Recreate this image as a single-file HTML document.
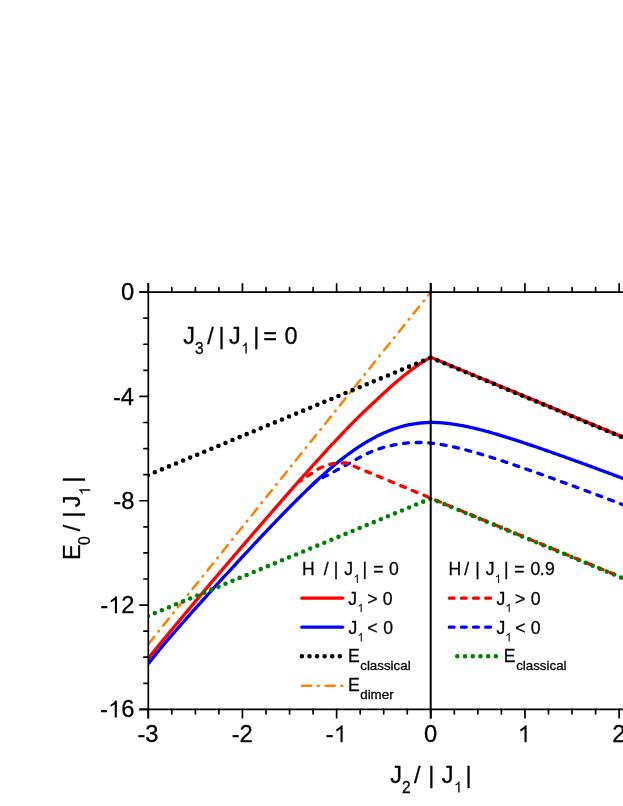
<!DOCTYPE html>
<html><head><meta charset="utf-8"><title>chart</title>
<style>
html,body{margin:0;padding:0;background:#fff;}
body{width:623px;height:806px;overflow:hidden;}
svg{display:block;font-family:"Liberation Sans",sans-serif;}
</style></head><body>
<svg width="623" height="806" viewBox="0 0 623 806">
<rect width="623" height="806" fill="#fff"/>
<clipPath id="cp"><rect x="147.89" y="290.10" width="500" height="421.28"/></clipPath><g clip-path="url(#cp)">
<path d="M148.29,658.42 L149.71,656.65 L151.13,654.88 L152.55,653.12 L153.97,651.36 L155.39,649.60 L156.81,647.85 L158.23,646.11 L159.65,644.37 L161.07,642.64 L162.49,640.92 L163.91,639.20 L165.33,637.49 L166.75,635.78 L168.17,634.07 L169.58,632.36 L171.00,630.65 L172.42,628.94 L173.84,627.23 L175.26,625.53 L176.68,623.82 L178.10,622.11 L179.52,620.40 L180.94,618.69 L182.36,616.98 L183.78,615.28 L185.20,613.57 L186.62,611.87 L188.04,610.16 L189.46,608.46 L190.88,606.76 L192.30,605.07 L193.72,603.37 L195.14,601.68 L196.56,599.99 L197.98,598.30 L199.40,596.62 L200.82,594.93 L202.24,593.25 L203.66,591.57 L205.08,589.89 L206.50,588.22 L207.92,586.54 L209.33,584.87 L210.75,583.19 L212.17,581.52 L213.59,579.85 L215.01,578.18 L216.43,576.51 L217.85,574.85 L219.27,573.18 L220.69,571.51 L222.11,569.85 L223.53,568.19 L224.95,566.52 L226.37,564.86 L227.79,563.20 L229.21,561.54 L230.63,559.88 L232.05,558.22 L233.47,556.56 L234.89,554.90 L236.31,553.24 L237.73,551.58 L239.15,549.93 L240.57,548.27 L241.99,546.62 L243.41,544.96 L244.83,543.31 L246.25,541.66 L247.67,540.01 L249.09,538.36 L250.50,536.71 L251.92,535.06 L253.34,533.41 L254.76,531.76 L256.18,530.12 L257.60,528.47 L259.02,526.83 L260.44,525.18 L261.86,523.54 L263.28,521.90 L264.70,520.26 L266.12,518.62 L267.54,516.98 L268.96,515.34 L270.38,513.71 L271.80,512.07 L273.22,510.44 L274.64,508.80 L276.06,507.17 L277.48,505.54 L278.90,503.91 L280.32,502.29 L281.74,500.66 L283.16,499.03 L284.58,497.41 L286.00,495.79 L287.42,494.17 L288.84,492.55 L290.25,490.93 L291.67,489.31 L293.09,487.70 L294.51,486.09 L295.93,484.48 L297.35,482.87 L298.77,481.26 L300.19,479.66 L301.61,478.06 L303.03,476.46 L304.45,474.86 L305.87,473.27 L307.29,471.68 L308.71,470.09 L310.13,468.50 L311.55,466.92 L312.97,465.34 L314.39,463.76 L315.81,462.19 L317.23,460.62 L318.65,459.05 L320.07,457.49 L321.49,455.93 L322.91,454.38 L324.33,452.82 L325.75,451.28 L327.17,449.73 L328.59,448.19 L330.00,446.66 L331.42,445.13 L332.84,443.60 L334.26,442.08 L335.68,440.57 L337.10,439.06 L338.52,437.55 L339.94,436.05 L341.36,434.56 L342.78,433.07 L344.20,431.59 L345.62,430.11 L347.04,428.64 L348.46,427.18 L349.88,425.72 L351.30,424.27 L352.72,422.83 L354.14,421.40 L355.56,419.98 L356.98,418.57 L358.40,417.16 L359.82,415.77 L361.24,414.38 L362.66,413.00 L364.08,411.64 L365.50,410.28 L366.92,408.92 L368.34,407.58 L369.76,406.24 L371.17,404.90 L372.59,403.57 L374.01,402.24 L375.43,400.92 L376.85,399.60 L378.27,398.28 L379.69,396.96 L381.11,395.64 L382.53,394.32 L383.95,393.01 L385.37,391.71 L386.79,390.41 L388.21,389.11 L389.63,387.83 L391.05,386.56 L392.47,385.30 L393.89,384.05 L395.31,382.81 L396.73,381.59 L398.15,380.39 L399.57,379.19 L400.99,378.01 L402.41,376.85 L403.83,375.70 L405.25,374.57 L406.67,373.45 L408.09,372.34 L409.51,371.26 L410.92,370.19 L412.34,369.14 L413.76,368.10 L415.18,367.09 L416.60,366.09 L418.02,365.11 L419.44,364.15 L420.86,363.22 L422.28,362.31 L423.70,361.41 L425.12,360.54 L426.54,359.70 L427.96,358.87 L429.38,358.07 L430.80,357.30 L430.80,357.30 L624.79,437.89" fill="none" stroke="#ff0000" stroke-width="3.3" stroke-linejoin="round"/>
<path d="M148.29,663.62 L149.88,661.61 L151.48,659.62 L153.07,657.62 L154.66,655.64 L156.26,653.66 L157.85,651.71 L159.45,649.76 L161.04,647.84 L162.63,645.93 L164.23,644.03 L165.82,642.15 L167.41,640.27 L169.01,638.41 L170.60,636.56 L172.19,634.71 L173.79,632.87 L175.38,631.04 L176.98,629.22 L178.57,627.40 L180.16,625.58 L181.76,623.77 L183.35,621.97 L184.94,620.17 L186.54,618.37 L188.13,616.58 L189.72,614.79 L191.32,613.01 L192.91,611.22 L194.51,609.44 L196.10,607.66 L197.69,605.88 L199.29,604.11 L200.88,602.33 L202.47,600.56 L204.07,598.79 L205.66,597.03 L207.25,595.26 L208.85,593.50 L210.44,591.74 L212.04,589.98 L213.63,588.22 L215.22,586.47 L216.82,584.72 L218.41,582.96 L220.00,581.22 L221.60,579.47 L223.19,577.72 L224.79,575.98 L226.38,574.24 L227.97,572.50 L229.57,570.76 L231.16,569.03 L232.75,567.29 L234.35,565.56 L235.94,563.83 L237.53,562.10 L239.13,560.37 L240.72,558.65 L242.32,556.92 L243.91,555.20 L245.50,553.48 L247.10,551.77 L248.69,550.05 L250.28,548.34 L251.88,546.63 L253.47,544.93 L255.06,543.22 L256.66,541.52 L258.25,539.83 L259.85,538.13 L261.44,536.44 L263.03,534.75 L264.63,533.06 L266.22,531.38 L267.81,529.70 L269.41,528.03 L271.00,526.36 L272.59,524.69 L274.19,523.02 L275.78,521.36 L277.38,519.71 L278.97,518.06 L280.56,516.41 L282.16,514.77 L283.75,513.13 L285.34,511.50 L286.94,509.87 L288.53,508.25 L290.12,506.63 L291.72,505.02 L293.31,503.42 L294.91,501.82 L296.50,500.23 L298.09,498.64 L299.69,497.06 L301.28,495.49 L302.87,493.93 L304.47,492.37 L306.06,490.83 L307.65,489.29 L309.25,487.76 L310.84,486.24 L312.44,484.73 L314.03,483.23 L315.62,481.74 L317.22,480.26 L318.81,478.79 L320.40,477.33 L322.00,475.89 L323.59,474.45 L325.18,473.03 L326.78,471.63 L328.37,470.23 L329.97,468.86 L331.56,467.49 L333.15,466.14 L334.75,464.81 L336.34,463.49 L337.93,462.19 L339.53,460.91 L341.12,459.65 L342.71,458.40 L344.31,457.17 L345.90,455.96 L347.50,454.77 L349.09,453.60 L350.68,452.44 L352.28,451.31 L353.87,450.19 L355.46,449.10 L357.06,448.02 L358.65,446.96 L360.24,445.92 L361.84,444.90 L363.43,443.91 L365.03,442.93 L366.62,441.97 L368.21,441.03 L369.81,440.12 L371.40,439.22 L372.99,438.34 L374.59,437.49 L376.18,436.66 L377.78,435.84 L379.37,435.06 L380.96,434.29 L382.56,433.55 L384.15,432.83 L385.74,432.14 L387.34,431.47 L388.93,430.82 L390.52,430.20 L392.12,429.60 L393.71,429.03 L395.31,428.48 L396.90,427.96 L398.49,427.46 L400.09,426.98 L401.68,426.53 L403.27,426.11 L404.87,425.70 L406.46,425.32 L408.05,424.97 L409.65,424.64 L411.24,424.33 L412.84,424.05 L414.43,423.79 L416.02,423.56 L417.62,423.35 L419.21,423.16 L420.80,422.99 L422.40,422.85 L423.99,422.73 L425.58,422.63 L427.18,422.56 L428.77,422.50 L430.37,422.47 L431.96,422.46 L433.55,422.47 L435.15,422.50 L436.74,422.56 L438.33,422.63 L439.93,422.72 L441.52,422.82 L443.11,422.95 L444.71,423.09 L446.30,423.25 L447.90,423.43 L449.49,423.62 L451.08,423.82 L452.68,424.04 L454.27,424.28 L455.86,424.53 L457.46,424.79 L459.05,425.06 L460.64,425.34 L462.24,425.64 L463.83,425.95 L465.43,426.27 L467.02,426.60 L468.61,426.94 L470.21,427.29 L471.80,427.65 L473.39,428.01 L474.99,428.39 L476.58,428.78 L478.17,429.17 L479.77,429.57 L481.36,429.98 L482.96,430.39 L484.55,430.81 L486.14,431.24 L487.74,431.68 L489.33,432.12 L490.92,432.57 L492.52,433.02 L494.11,433.48 L495.70,433.94 L497.30,434.41 L498.89,434.89 L500.49,435.37 L502.08,435.85 L503.67,436.34 L505.27,436.83 L506.86,437.33 L508.45,437.83 L510.05,438.33 L511.64,438.84 L513.23,439.35 L514.83,439.86 L516.42,440.38 L518.02,440.90 L519.61,441.42 L521.20,441.94 L522.80,442.47 L524.39,443.00 L525.98,443.53 L527.58,444.07 L529.17,444.60 L530.77,445.14 L532.36,445.68 L533.95,446.23 L535.55,446.77 L537.14,447.31 L538.73,447.86 L540.33,448.41 L541.92,448.96 L543.51,449.51 L545.11,450.07 L546.70,450.62 L548.30,451.18 L549.89,451.74 L551.48,452.30 L553.08,452.86 L554.67,453.42 L556.26,453.98 L557.86,454.55 L559.45,455.11 L561.04,455.68 L562.64,456.25 L564.23,456.82 L565.83,457.39 L567.42,457.96 L569.01,458.53 L570.61,459.11 L572.20,459.68 L573.79,460.26 L575.39,460.83 L576.98,461.41 L578.57,461.99 L580.17,462.57 L581.76,463.15 L583.36,463.73 L584.95,464.31 L586.54,464.90 L588.14,465.48 L589.73,466.06 L591.32,466.65 L592.92,467.24 L594.51,467.82 L596.10,468.41 L597.70,469.00 L599.29,469.59 L600.89,470.18 L602.48,470.77 L604.07,471.36 L605.67,471.95 L607.26,472.55 L608.85,473.14 L610.45,473.73 L612.04,474.33 L613.63,474.92 L615.23,475.52 L616.82,476.12 L618.42,476.72 L620.01,477.31 L621.60,477.91 L623.20,478.51 L624.79,479.11" fill="none" stroke="#0000ff" stroke-width="3.3"/>
<path d="M312.65,484.53 L313.69,483.54 L314.74,482.56 L315.78,481.59 L316.83,480.62 L317.87,479.87 L318.91,479.35 L319.96,478.84 L321.00,478.34 L322.04,477.84 L323.09,477.34 L324.13,476.84 L325.18,476.33 L326.22,475.82 L327.26,475.29 L328.31,474.76 L329.35,474.21 L330.40,473.65 L331.44,473.08 L332.48,472.50 L333.53,471.92 L334.57,471.34 L335.62,470.76 L336.66,470.18 L337.70,469.61 L338.75,469.03 L339.79,468.46 L340.84,467.89 L341.88,467.33 L342.92,466.76 L343.97,466.19 L345.01,465.62 L346.06,465.05 L347.10,464.47 L348.14,463.89 L349.19,463.31 L350.23,462.72 L351.28,462.13 L352.32,461.54 L353.36,460.95 L354.41,460.36 L355.45,459.77 L356.50,459.19 L357.54,458.61 L358.58,458.03 L359.63,457.46 L360.67,456.90 L361.71,456.34 L362.76,455.80 L363.80,455.26 L364.85,454.73 L365.89,454.21 L366.93,453.71 L367.98,453.22 L369.02,452.74 L370.07,452.28 L371.11,451.83 L372.15,451.39 L373.20,450.97 L374.24,450.56 L375.29,450.17 L376.33,449.79 L377.37,449.42 L378.42,449.06 L379.46,448.72 L380.51,448.39 L381.55,448.07 L382.59,447.76 L383.64,447.46 L384.68,447.17 L385.73,446.89 L386.77,446.62 L387.81,446.36 L388.86,446.11 L389.90,445.87 L390.95,445.64 L391.99,445.41 L393.03,445.19 L394.08,444.98 L395.12,444.78 L396.17,444.58 L397.21,444.39 L398.25,444.21 L399.30,444.04 L400.34,443.88 L401.39,443.72 L402.43,443.58 L403.47,443.44 L404.52,443.31 L405.56,443.19 L406.60,443.08 L407.65,442.98 L408.69,442.89 L409.74,442.81 L410.78,442.73 L411.82,442.67 L412.87,442.61 L413.91,442.57 L414.96,442.53 L416.00,442.51 L417.04,442.49 L418.09,442.48 L419.13,442.49 L420.18,442.50 L421.22,442.52 L422.26,442.55 L423.31,442.59 L424.35,442.63 L425.40,442.69 L426.44,442.76 L427.48,442.83 L428.53,442.91 L429.57,443.00 L430.62,443.10 L431.66,443.21 L432.70,443.32 L433.75,443.44 L434.79,443.57 L435.84,443.71 L436.88,443.85 L437.92,444.00 L438.97,444.15 L440.01,444.32 L441.06,444.48 L442.10,444.66 L443.14,444.84 L444.19,445.02 L445.23,445.21 L446.27,445.41 L447.32,445.61 L448.36,445.82 L449.41,446.03 L450.45,446.25 L451.49,446.47 L452.54,446.70 L453.58,446.93 L454.63,447.16 L455.67,447.40 L456.71,447.65 L457.76,447.89 L458.80,448.14 L459.85,448.40 L460.89,448.66 L461.93,448.92 L462.98,449.18 L464.02,449.45 L465.07,449.72 L466.11,450.00 L467.15,450.28 L468.20,450.56 L469.24,450.84 L470.29,451.13 L471.33,451.42 L472.37,451.71 L473.42,452.00 L474.46,452.30 L475.51,452.60 L476.55,452.90 L477.59,453.20 L478.64,453.51 L479.68,453.82 L480.73,454.13 L481.77,454.44 L482.81,454.76 L483.86,455.07 L484.90,455.39 L485.94,455.71 L486.99,456.03 L488.03,456.36 L489.08,456.68 L490.12,457.01 L491.16,457.34 L492.21,457.67 L493.25,458.00 L494.30,458.33 L495.34,458.67 L496.38,459.00 L497.43,459.34 L498.47,459.68 L499.52,460.02 L500.56,460.36 L501.60,460.70 L502.65,461.04 L503.69,461.39 L504.74,461.74 L505.78,462.08 L506.82,462.43 L507.87,462.78 L508.91,463.13 L509.96,463.48 L511.00,463.83 L512.04,464.19 L513.09,464.54 L514.13,464.90 L515.18,465.25 L516.22,465.61 L517.26,465.97 L518.31,466.33 L519.35,466.69 L520.40,467.05 L521.44,467.41 L522.48,467.77 L523.53,468.13 L524.57,468.50 L525.62,468.86 L526.66,469.23 L527.70,469.59 L528.75,469.96 L529.79,470.32 L530.83,470.69 L531.88,471.06 L532.92,471.43 L533.97,471.80 L535.01,472.17 L536.05,472.54 L537.10,472.91 L538.14,473.28 L539.19,473.65 L540.23,474.03 L541.27,474.40 L542.32,474.78 L543.36,475.15 L544.41,475.52 L545.45,475.90 L546.49,476.28 L547.54,476.65 L548.58,477.03 L549.63,477.41 L550.67,477.78 L551.71,478.16 L552.76,478.54 L553.80,478.92 L554.85,479.30 L555.89,479.68 L556.93,480.06 L557.98,480.44 L559.02,480.82 L560.07,481.20 L561.11,481.59 L562.15,481.97 L563.20,482.35 L564.24,482.73 L565.29,483.12 L566.33,483.50 L567.37,483.88 L568.42,484.27 L569.46,484.65 L570.50,485.04 L571.55,485.42 L572.59,485.81 L573.64,486.19 L574.68,486.58 L575.72,486.97 L576.77,487.35 L577.81,487.74 L578.86,488.13 L579.90,488.51 L580.94,488.90 L581.99,489.29 L583.03,489.68 L584.08,490.07 L585.12,490.46 L586.16,490.85 L587.21,491.23 L588.25,491.62 L589.30,492.01 L590.34,492.40 L591.38,492.79 L592.43,493.18 L593.47,493.58 L594.52,493.97 L595.56,494.36 L596.60,494.75 L597.65,495.14 L598.69,495.53 L599.74,495.92 L600.78,496.32 L601.82,496.71 L602.87,497.10 L603.91,497.49 L604.96,497.89 L606.00,498.28 L607.04,498.67 L608.09,499.07 L609.13,499.46 L610.17,499.85 L611.22,500.25 L612.26,500.64 L613.31,501.04 L614.35,501.43 L615.39,501.82 L616.44,502.22 L617.48,502.61 L618.53,503.01 L619.57,503.40 L620.61,503.80 L621.66,504.20 L622.70,504.59 L623.75,504.99 L624.79,505.38" fill="none" stroke="#0000ff" stroke-width="3.3" stroke-linecap="round" stroke-dasharray="5.0 7.6"/>
<path d="M300.40,481.08 L300.63,480.92 L300.86,480.75 L301.09,480.59 L301.32,480.42 L301.55,480.26 L301.78,480.10 L302.01,479.93 L302.24,479.77 L302.47,479.61 L302.70,479.45 L302.93,479.29 L303.16,479.12 L303.38,478.96 L303.61,478.80 L303.84,478.64 L304.07,478.48 L304.30,478.32 L304.53,478.16 L304.76,478.00 L304.99,477.84 L305.22,477.69 L305.45,477.53 L305.68,477.37 L305.91,477.21 L306.14,477.06 L306.37,476.90 L306.60,476.74 L306.83,476.59 L307.05,476.43 L307.28,476.27 L307.51,476.12 L307.74,475.96 L307.97,475.81 L308.20,475.66 L308.43,475.50 L308.66,475.35 L308.89,475.20 L309.12,475.04 L309.35,474.89 L309.58,474.74 L309.81,474.59 L310.04,474.44 L310.27,474.28 L310.49,474.13 L310.72,473.98 L310.95,473.83 L311.18,473.68 L311.41,473.53 L311.64,473.37 L311.87,473.22 L312.10,473.06 L312.33,472.90 L312.56,472.75 L312.79,472.59 L313.02,472.43 L313.25,472.27 L313.48,472.12 L313.71,471.96 L313.94,471.80 L314.16,471.64 L314.39,471.48 L314.62,471.33 L314.85,471.17 L315.08,471.02 L315.31,470.86 L315.54,470.71 L315.77,470.55 L316.00,470.40 L316.23,470.25 L316.46,470.10 L316.69,469.95 L316.92,469.81 L317.15,469.66 L317.38,469.52 L317.61,469.38 L317.83,469.24 L318.06,469.10 L318.29,468.97 L318.52,468.83 L318.75,468.70 L318.98,468.57 L319.21,468.45 L319.44,468.33 L319.67,468.21 L319.90,468.09 L320.13,467.98 L320.36,467.87 L320.59,467.76 L320.82,467.66 L321.05,467.55 L321.28,467.45 L321.50,467.36 L321.73,467.26 L321.96,467.16 L322.19,467.06 L322.42,466.97 L322.65,466.87 L322.88,466.78 L323.11,466.68 L323.34,466.59 L323.57,466.50 L323.80,466.40 L324.03,466.31 L324.26,466.22 L324.49,466.13 L324.72,466.05 L324.95,465.96 L325.17,465.87 L325.40,465.79 L325.63,465.70 L325.86,465.62 L326.09,465.54 L326.32,465.46 L326.55,465.38 L326.78,465.30 L327.01,465.22 L327.24,465.14 L327.47,465.07 L327.70,464.99 L327.93,464.92 L328.16,464.85 L328.39,464.78 L328.62,464.71 L328.84,464.64 L329.07,464.58 L329.30,464.51 L329.53,464.45 L329.76,464.38 L329.99,464.32 L330.22,464.26 L330.45,464.20 L330.68,464.15 L330.91,464.09 L331.14,464.04 L331.37,463.99 L331.60,463.93 L331.83,463.89 L332.06,463.84 L332.28,463.79 L332.51,463.75 L332.74,463.70 L332.97,463.66 L333.20,463.61 L333.43,463.57 L333.66,463.52 L333.89,463.48 L334.12,463.43 L334.35,463.39 L334.58,463.35 L334.81,463.30 L335.04,463.26 L335.27,463.22 L335.50,463.18 L335.73,463.14 L335.95,463.11 L336.18,463.07 L336.41,463.04 L336.64,463.01 L336.87,462.98 L337.10,462.95 L337.33,462.93 L337.56,462.91 L337.79,462.89 L338.02,462.87 L338.25,462.86 L338.48,462.85 L338.71,462.85 L338.94,462.85 L339.17,462.85 L339.40,462.85 L339.62,462.86 L339.85,462.87 L340.08,462.88 L340.31,462.89 L340.54,462.91 L340.77,462.92 L341.00,462.93 L341.23,462.95 L341.46,462.96 L341.69,462.97 L341.92,462.98 L342.15,462.99 L342.38,463.00 L342.61,463.00 L342.84,463.00 L343.07,463.00 L343.29,463.00 L343.52,463.00 L343.75,463.00 L343.98,462.99 L344.21,462.99 L344.44,462.98 L344.67,462.98 L344.90,462.97 L345.13,462.96 L345.36,462.96 L345.59,462.95 L345.82,462.94 L346.05,462.92 L430.80,498.13 L624.79,578.72" fill="none" stroke="#ff0000" stroke-width="3.3" stroke-linecap="round" stroke-dasharray="5.0 7.6" stroke-dashoffset="3.8"/>
<path d="M148.29,644.18 L430.80,292.10" fill="none" stroke="#ff8000" stroke-width="2.5" stroke-linecap="round" stroke-dasharray="9.1 6.77 0.9 6.76" stroke-dashoffset="-0.3"/>
<path d="M147.79,475.22 L430.80,357.65 L624.79,438.24" fill="none" stroke="#000" stroke-width="4.6" stroke-linecap="round" stroke-dasharray="0 7.6475"/>
<path d="M147.79,616.05 L430.80,498.48 L624.79,579.07" fill="none" stroke="#008000" stroke-width="4.6" stroke-linecap="round" stroke-dasharray="0 7.6475"/>
</g>
<g stroke="#000" stroke-width="1.7" fill="none" stroke-linecap="round">
<line x1="148.29000000000002" y1="283.8" x2="148.29000000000002" y2="717.68"/>
<line x1="139.99" y1="292.1" x2="626.5" y2="292.1"/>
<line x1="139.99" y1="709.38" x2="626.5" y2="709.38"/>
<line x1="430.7" y1="283.8" x2="430.7" y2="717.68" stroke-width="2.0"/>
<line x1="148.29" y1="292.1" x2="148.29" y2="283.8"/>
<line x1="148.29" y1="709.38" x2="148.29" y2="717.68"/>
<line x1="171.83" y1="292.1" x2="171.83" y2="287.70000000000005"/>
<line x1="171.83" y1="709.38" x2="171.83" y2="713.78"/>
<line x1="195.38" y1="292.1" x2="195.38" y2="287.70000000000005"/>
<line x1="195.38" y1="709.38" x2="195.38" y2="713.78"/>
<line x1="218.92" y1="292.1" x2="218.92" y2="287.70000000000005"/>
<line x1="218.92" y1="709.38" x2="218.92" y2="713.78"/>
<line x1="242.46" y1="292.1" x2="242.46" y2="283.8"/>
<line x1="242.46" y1="709.38" x2="242.46" y2="717.68"/>
<line x1="266.00" y1="292.1" x2="266.00" y2="287.70000000000005"/>
<line x1="266.00" y1="709.38" x2="266.00" y2="713.78"/>
<line x1="289.55" y1="292.1" x2="289.55" y2="287.70000000000005"/>
<line x1="289.55" y1="709.38" x2="289.55" y2="713.78"/>
<line x1="313.09" y1="292.1" x2="313.09" y2="287.70000000000005"/>
<line x1="313.09" y1="709.38" x2="313.09" y2="713.78"/>
<line x1="336.63" y1="292.1" x2="336.63" y2="283.8"/>
<line x1="336.63" y1="709.38" x2="336.63" y2="717.68"/>
<line x1="360.17" y1="292.1" x2="360.17" y2="287.70000000000005"/>
<line x1="360.17" y1="709.38" x2="360.17" y2="713.78"/>
<line x1="383.72" y1="292.1" x2="383.72" y2="287.70000000000005"/>
<line x1="383.72" y1="709.38" x2="383.72" y2="713.78"/>
<line x1="407.26" y1="292.1" x2="407.26" y2="287.70000000000005"/>
<line x1="407.26" y1="709.38" x2="407.26" y2="713.78"/>
<line x1="430.80" y1="292.1" x2="430.80" y2="283.8"/>
<line x1="430.80" y1="709.38" x2="430.80" y2="717.68"/>
<line x1="454.34" y1="292.1" x2="454.34" y2="287.70000000000005"/>
<line x1="454.34" y1="709.38" x2="454.34" y2="713.78"/>
<line x1="477.88" y1="292.1" x2="477.88" y2="287.70000000000005"/>
<line x1="477.88" y1="709.38" x2="477.88" y2="713.78"/>
<line x1="501.43" y1="292.1" x2="501.43" y2="287.70000000000005"/>
<line x1="501.43" y1="709.38" x2="501.43" y2="713.78"/>
<line x1="524.97" y1="292.1" x2="524.97" y2="283.8"/>
<line x1="524.97" y1="709.38" x2="524.97" y2="717.68"/>
<line x1="548.51" y1="292.1" x2="548.51" y2="287.70000000000005"/>
<line x1="548.51" y1="709.38" x2="548.51" y2="713.78"/>
<line x1="572.06" y1="292.1" x2="572.06" y2="287.70000000000005"/>
<line x1="572.06" y1="709.38" x2="572.06" y2="713.78"/>
<line x1="595.60" y1="292.1" x2="595.60" y2="287.70000000000005"/>
<line x1="595.60" y1="709.38" x2="595.60" y2="713.78"/>
<line x1="619.14" y1="292.1" x2="619.14" y2="283.8"/>
<line x1="619.14" y1="709.38" x2="619.14" y2="717.68"/>
<line x1="148.29000000000002" y1="292.10" x2="139.99" y2="292.10"/>
<line x1="148.29000000000002" y1="318.18" x2="143.89000000000001" y2="318.18"/>
<line x1="148.29000000000002" y1="344.26" x2="143.89000000000001" y2="344.26"/>
<line x1="148.29000000000002" y1="370.34" x2="143.89000000000001" y2="370.34"/>
<line x1="148.29000000000002" y1="396.42" x2="139.99" y2="396.42"/>
<line x1="148.29000000000002" y1="422.50" x2="143.89000000000001" y2="422.50"/>
<line x1="148.29000000000002" y1="448.58" x2="143.89000000000001" y2="448.58"/>
<line x1="148.29000000000002" y1="474.66" x2="143.89000000000001" y2="474.66"/>
<line x1="148.29000000000002" y1="500.74" x2="139.99" y2="500.74"/>
<line x1="148.29000000000002" y1="526.82" x2="143.89000000000001" y2="526.82"/>
<line x1="148.29000000000002" y1="552.90" x2="143.89000000000001" y2="552.90"/>
<line x1="148.29000000000002" y1="578.98" x2="143.89000000000001" y2="578.98"/>
<line x1="148.29000000000002" y1="605.06" x2="139.99" y2="605.06"/>
<line x1="148.29000000000002" y1="631.14" x2="143.89000000000001" y2="631.14"/>
<line x1="148.29000000000002" y1="657.22" x2="143.89000000000001" y2="657.22"/>
<line x1="148.29000000000002" y1="683.30" x2="143.89000000000001" y2="683.30"/>
<line x1="148.29000000000002" y1="709.38" x2="139.99" y2="709.38"/>
</g>
<g fill="#000" stroke="#000" stroke-width="0.3" opacity="0.999">
<text transform="translate(121.09,300.20) scale(1,1.015)" font-size="23.8">0</text>
<text transform="translate(112.94,404.52) scale(1,1.015)" font-size="23.8">-</text><text transform="translate(120.86,404.52) scale(1,1.015)" font-size="23.8">4</text>
<text transform="translate(113.27,508.84) scale(1,1.015)" font-size="23.8">-</text><text transform="translate(121.20,508.84) scale(1,1.015)" font-size="23.8">8</text>
<text transform="translate(100.20,613.16) scale(1,1.015)" font-size="23.8">-</text><path d="M763 0H583V1147Q518 1085 412.5 1023T223 930V1104Q374 1175 487 1276T647 1466H763Z" transform="translate(108.12,613.16) scale(0.01162,-0.01162)"/><text transform="translate(121.36,613.16) scale(1,1.015)" font-size="23.8">2</text>
<text transform="translate(100.05,717.48) scale(1,1.015)" font-size="23.8">-</text><path d="M763 0H583V1147Q518 1085 412.5 1023T223 930V1104Q374 1175 487 1276T647 1466H763Z" transform="translate(107.97,717.48) scale(0.01162,-0.01162)"/><text transform="translate(121.21,717.48) scale(1,1.015)" font-size="23.8">6</text>
<text transform="translate(137.40,742.20) scale(1,1.015)" font-size="23.8">-</text><text transform="translate(145.33,742.20) scale(1,1.015)" font-size="23.8">3</text>
<text transform="translate(231.65,742.20) scale(1,1.015)" font-size="23.8">-</text><text transform="translate(239.57,742.20) scale(1,1.015)" font-size="23.8">2</text>
<text transform="translate(325.80,742.20) scale(1,1.015)" font-size="23.8">-</text><path d="M763 0H583V1147Q518 1085 412.5 1023T223 930V1104Q374 1175 487 1276T647 1466H763Z" transform="translate(333.73,742.20) scale(0.01162,-0.01162)"/>
<text transform="translate(423.88,742.20) scale(1,1.015)" font-size="23.8">0</text>
<path d="M763 0H583V1147Q518 1085 412.5 1023T223 930V1104Q374 1175 487 1276T647 1466H763Z" transform="translate(517.73,742.20) scale(0.01162,-0.01162)"/>
<text transform="translate(612.22,742.20) scale(1,1.015)" font-size="23.8">2</text>
<text transform="translate(390.16,782.50) scale(1,1.035)" font-size="23.5">J</text>
<text transform="translate(401.99,792.60) scale(1,1.035)" font-size="15.5">2</text>
<text transform="translate(413.89,782.50) scale(1,1.035)" font-size="23.5">/</text>
<text transform="translate(428.15,782.50) scale(1,1.035)" font-size="23.5">|</text>
<text transform="translate(441.76,782.50) scale(1,1.035)" font-size="23.5">J</text>
<path d="M763 0H583V1147Q518 1085 412.5 1023T223 930V1104Q374 1175 487 1276T647 1466H763Z" transform="translate(453.82,792.60) scale(0.00757,-0.00757)"/>
<text transform="translate(465.45,782.50) scale(1,1.035)" font-size="23.5">|</text>
<text transform="translate(80.10,559.90) rotate(-90) scale(1,1.035)" font-size="23.5">E</text>
<text transform="translate(90.20,545.06) rotate(-90) scale(1,1.035)" font-size="15.5">0</text>
<text transform="translate(80.10,531.26) rotate(-90) scale(1,1.035)" font-size="23.5">/</text>
<text transform="translate(80.10,517.85) rotate(-90) scale(1,1.035)" font-size="23.5">|</text>
<text transform="translate(80.10,507.19) rotate(-90) scale(1,1.035)" font-size="23.5">J</text>
<path d="M763 0H583V1147Q518 1085 412.5 1023T223 930V1104Q374 1175 487 1276T647 1466H763Z" transform="translate(90.20,495.08) rotate(-90) scale(0.00757,-0.00757)"/>
<text transform="translate(80.10,482.75) rotate(-90) scale(1,1.035)" font-size="23.5">|</text>
<text transform="translate(183.21,343.50) scale(1,1.035)" font-size="23.5">J</text>
<text transform="translate(195.04,353.60) scale(1,1.035)" font-size="15.5">3</text>
<text transform="translate(207.29,343.50) scale(1,1.035)" font-size="23.5">/</text>
<text transform="translate(218.55,343.50) scale(1,1.035)" font-size="23.5">|</text>
<text transform="translate(228.96,343.50) scale(1,1.035)" font-size="23.5">J</text>
<path d="M763 0H583V1147Q518 1085 412.5 1023T223 930V1104Q374 1175 487 1276T647 1466H763Z" transform="translate(240.97,353.60) scale(0.00757,-0.00757)"/>
<text transform="translate(253.15,343.50) scale(1,1.035)" font-size="23.5">|</text>
<text transform="translate(263.24,343.50) scale(1,1.035)" font-size="23.5">=</text>
<text transform="translate(284.52,343.50) scale(1,1.035)" font-size="23.5">0</text>
<text transform="translate(301.99,575.30) scale(1,1.035)" font-size="17.6">H</text>
<text transform="translate(323.76,575.30) scale(1,1.035)" font-size="17.6">/</text>
<text transform="translate(333.81,575.30) scale(1,1.035)" font-size="17.6">|</text>
<text transform="translate(344.32,575.30) scale(1,1.035)" font-size="17.6">J</text>
<path d="M763 0H583V1147Q518 1085 412.5 1023T223 930V1104Q374 1175 487 1276T647 1466H763Z" transform="translate(353.41,583.00) scale(0.00586,-0.00586)"/>
<text transform="translate(362.61,575.30) scale(1,1.035)" font-size="17.6">|</text>
<text transform="translate(373.17,575.30) scale(1,1.035)" font-size="17.6">=</text>
<text transform="translate(388.91,575.30) scale(1,1.035)" font-size="17.6">0</text>
<text transform="translate(448.54,575.30) scale(1,1.035)" font-size="17.6">H</text>
<text transform="translate(464.16,575.30) scale(1,1.035)" font-size="17.6">/</text>
<text transform="translate(475.31,575.30) scale(1,1.035)" font-size="17.6">|</text>
<text transform="translate(485.77,575.30) scale(1,1.035)" font-size="17.6">J</text>
<path d="M763 0H583V1147Q518 1085 412.5 1023T223 930V1104Q374 1175 487 1276T647 1466H763Z" transform="translate(494.61,583.00) scale(0.00586,-0.00586)"/>
<text transform="translate(504.11,575.30) scale(1,1.035)" font-size="17.6">|</text>
<text transform="translate(514.17,575.30) scale(1,1.035)" font-size="17.6">=</text>
<text transform="translate(530.61,575.30) scale(1,1.035)" font-size="17.6">0</text>
<text transform="translate(539.86,575.30) scale(1,1.035)" font-size="17.6">.</text>
<text transform="translate(545.01,575.30) scale(1,1.035)" font-size="17.6">9</text>
<text transform="translate(348.37,604.60) scale(1,1.035)" font-size="17.6">J</text>
<path d="M763 0H583V1147Q518 1085 412.5 1023T223 930V1104Q374 1175 487 1276T647 1466H763Z" transform="translate(357.21,612.30) scale(0.00586,-0.00586)"/>
<text transform="translate(367.26,604.60) scale(1,1.035)" font-size="17.6">&gt;</text>
<text transform="translate(382.86,604.60) scale(1,1.035)" font-size="17.6">0</text>
<text transform="translate(348.47,633.70) scale(1,1.035)" font-size="17.6">J</text>
<path d="M763 0H583V1147Q518 1085 412.5 1023T223 930V1104Q374 1175 487 1276T647 1466H763Z" transform="translate(357.31,641.40) scale(0.00586,-0.00586)"/>
<text transform="translate(367.26,633.70) scale(1,1.035)" font-size="17.6">&lt;</text>
<text transform="translate(383.21,633.70) scale(1,1.035)" font-size="17.6">0</text>
<text transform="translate(347.89,661.90) scale(1,1.035)" font-size="17.6">E</text>
<text transform="translate(360.23,670.10) scale(1,0.98)" font-size="13.35">classical</text>
<text transform="translate(347.89,691.40) scale(1,1.035)" font-size="17.6">E</text>
<text transform="translate(360.24,699.20) scale(1,0.98)" font-size="13.35">dimer</text>
<text transform="translate(496.42,604.60) scale(1,1.035)" font-size="17.6">J</text>
<path d="M763 0H583V1147Q518 1085 412.5 1023T223 930V1104Q374 1175 487 1276T647 1466H763Z" transform="translate(505.21,612.30) scale(0.00586,-0.00586)"/>
<text transform="translate(514.96,604.60) scale(1,1.035)" font-size="17.6">&gt;</text>
<text transform="translate(530.81,604.60) scale(1,1.035)" font-size="17.6">0</text>
<text transform="translate(496.42,633.70) scale(1,1.035)" font-size="17.6">J</text>
<path d="M763 0H583V1147Q518 1085 412.5 1023T223 930V1104Q374 1175 487 1276T647 1466H763Z" transform="translate(505.21,641.40) scale(0.00586,-0.00586)"/>
<text transform="translate(515.36,633.70) scale(1,1.035)" font-size="17.6">&lt;</text>
<text transform="translate(530.81,633.70) scale(1,1.035)" font-size="17.6">0</text>
<text transform="translate(503.79,661.90) scale(1,1.035)" font-size="17.6">E</text>
<text transform="translate(516.13,670.10) scale(1,0.98)" font-size="13.35">classical</text>
</g>
<line x1="301.9" y1="598.15" x2="342.5" y2="598.15" stroke="#ff0000" stroke-width="3.3" stroke-linecap="round"/>
<line x1="301.9" y1="627.15" x2="342.5" y2="627.15" stroke="#0000ff" stroke-width="3.3" stroke-linecap="round"/>
<line x1="301.9" y1="656.3" x2="342" y2="656.3" stroke="#000" stroke-width="4.6" stroke-linecap="round" stroke-dasharray="0 7.58"/>
<line x1="302.0" y1="685.7" x2="344" y2="685.7" fill="none" stroke="#ff8000" stroke-width="2.5" stroke-linecap="round" stroke-dasharray="9.1 6.77 0.9 6.76"/>
<line x1="449.3" y1="598.15" x2="491" y2="598.15" stroke="#ff0000" stroke-width="3.3" stroke-linecap="round" stroke-dasharray="4.8 7.33"/>
<line x1="449.3" y1="627.15" x2="491" y2="627.15" stroke="#0000ff" stroke-width="3.3" stroke-linecap="round" stroke-dasharray="4.8 7.33"/>
<line x1="457.3" y1="656.3" x2="498" y2="656.3" stroke="#008000" stroke-width="4.6" stroke-linecap="round" stroke-dasharray="0 7.72"/>
</svg>
</body></html>
